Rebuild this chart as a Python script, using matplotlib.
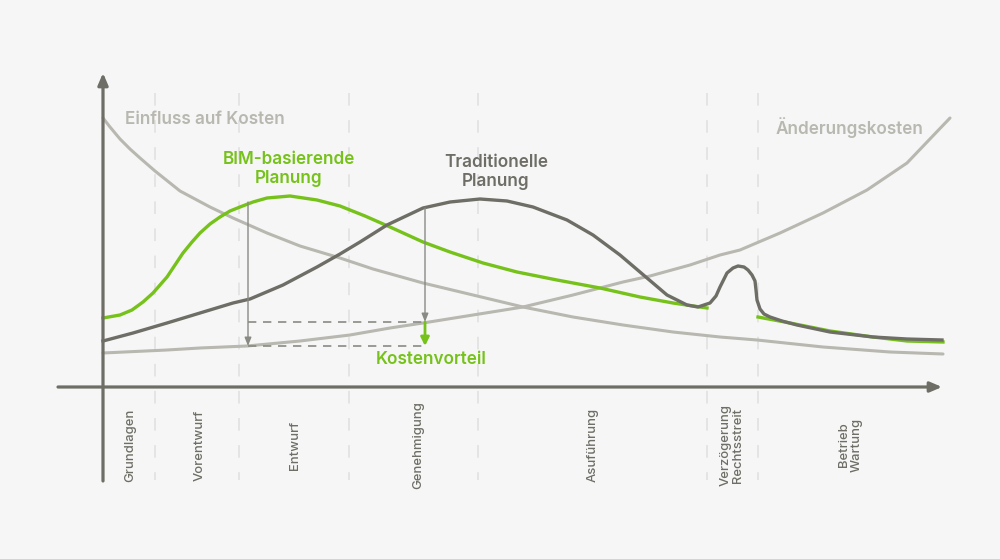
import matplotlib.pyplot as plt

# Farben
bg = "#f6f6f6"
dunkel = "#6e6e66"
hell = "#b8b8b0"
gruen = "#76c21a"
strich = "#e3e3e3"

# Phasen (Trennlinien und Beschriftungen)
phasen_grenzen = [155, 239, 349, 478, 707, 758]
phasen = ["Grundlagen", "Vorentwurf", "Entwurf", "Genehmigung", "Asuführung",
          "Verzögerung\nRechtsstreit", "Betrieb\nWartung"]
phasen_x = [130, 200, 295, 418, 593, 732, 850]

# Einfluss auf Kosten
einfluss_x = [103, 110, 120, 130, 140, 155, 180, 210, 233, 267, 300, 340, 373, 423, 473,
              523, 573, 623, 673, 720, 757, 823, 890, 943]
einfluss_y = [118, 127, 139, 149, 158, 171, 191, 207, 218, 233, 246, 258, 269, 283, 295,
              307, 317, 325, 332, 337, 340, 347, 352, 354]

# Änderungskosten
aenderung_x = [103, 167, 200, 247, 300, 350, 390, 423, 473, 523, 573, 623, 650, 690, 720,
               740, 780, 823, 867, 907, 950]
aenderung_y = [353, 350, 348, 346, 341, 335, 328, 323, 315, 307, 295, 282, 276, 265, 255,
               250, 233, 213, 190, 163, 118]

# Traditionelle Planung
trad_x = [103, 133, 167, 200, 233, 250, 283, 317, 340, 360, 387, 423, 450, 480, 507, 533,
          567, 593, 620, 647, 667, 687, 698, 710, 716, 720, 727, 733, 738, 744, 748, 752,
          755, 756, 757, 760, 764, 770, 782, 797, 830, 873, 907, 942]
trad_y = [341, 333, 323, 313, 303, 299, 285, 267, 254, 242, 225, 208, 202, 199, 201, 207,
          220, 235, 255, 278, 295, 305, 307, 303, 296, 287, 273, 268, 266, 267, 270, 275,
          281, 290, 300, 309, 314, 317, 321, 325, 332, 337, 339, 340]

# BIM-basierende Planung (zwei Abschnitte)
bim1_x = [103, 120, 132, 143, 153, 160, 167, 175, 183, 192, 200, 210, 220, 230, 240, 253,
          267, 290, 317, 340, 365, 390, 423, 450, 483, 517, 557, 600, 640, 673, 707]
bim1_y = [318, 315, 310, 302, 293, 285, 277, 265, 253, 242, 233, 224, 217, 211, 207, 202,
          198, 196, 200, 206, 216, 227, 242, 252, 263, 272, 280, 288, 297, 303, 308]
bim2_x = [758, 790, 830, 873, 907, 943]
bim2_y = [317, 323, 331, 337, 341, 342]

fig = plt.figure(figsize=(10, 5.59), dpi=100, facecolor=bg)
ax = fig.add_axes([0, 0, 1, 1])
ax.set_facecolor(bg)
ax.set_xlim(0, 1000)
ax.set_ylim(559, 0)
ax.axis("off")

plt.rcParams["font.family"] = ["Inter", "DejaVu Sans"]

# gestrichelte Phasenlinien
for gx in phasen_grenzen:
    ax.plot([gx, gx], [93, 480], color=strich, lw=1.3, ls=(0, (7, 8)), zorder=1)

# Achsen
ax.annotate("", xy=(942, 387), xytext=(58, 387),
            arrowprops=dict(arrowstyle="-|>,head_length=0.7,head_width=0.3",
                            color=dunkel, lw=2.3, shrinkA=0, shrinkB=0), zorder=5)
ax.annotate("", xy=(103, 73), xytext=(103, 481),
            arrowprops=dict(arrowstyle="-|>,head_length=0.7,head_width=0.3",
                            color=dunkel, lw=2.3, shrinkA=0, shrinkB=0), zorder=5)

# Kurven
ax.plot(einfluss_x, einfluss_y, color=hell, lw=2.2, solid_capstyle="round",
        solid_joinstyle="round", zorder=2)
ax.plot(aenderung_x, aenderung_y, color=hell, lw=2.2, solid_capstyle="round",
        solid_joinstyle="round", zorder=2)
ax.plot(bim1_x, bim1_y, color=gruen, lw=2.4, solid_joinstyle="round", zorder=3)
ax.plot(bim2_x, bim2_y, color=gruen, lw=2.4, solid_joinstyle="round", zorder=3)
ax.plot(trad_x, trad_y, color=dunkel, lw=2.4, solid_joinstyle="round", zorder=4)

# Kostenvorteil-Markierung
grau = "#8a8a84"
pfeil = dict(arrowstyle="-|>,head_length=0.5,head_width=0.2", color=grau, lw=1.0,
             shrinkA=0, shrinkB=0)
ax.annotate("", xy=(248, 346), xytext=(248, 202), arrowprops=pfeil, zorder=4)
ax.annotate("", xy=(425, 322), xytext=(425, 208), arrowprops=pfeil, zorder=4)
ax.plot([248, 425], [322, 322], color=grau, lw=1.2, ls=(0, (5, 4)), zorder=3)
ax.plot([248, 425], [346, 346], color=grau, lw=1.2, ls=(0, (5, 4)), zorder=3)
ax.annotate("", xy=(425, 346), xytext=(425, 322),
            arrowprops=dict(arrowstyle="-|>,head_length=0.5,head_width=0.25", color=gruen,
                            lw=2.0, shrinkA=0, shrinkB=0), zorder=5)

# Beschriftungen
ax.text(125, 120, "Einfluss auf Kosten", color=hell, fontsize=12.3, fontweight="semibold",
        ha="left", va="center")
ax.text(289, 169, "BIM-basierende\nPlanung", color=gruen, fontsize=12.3,
        fontweight="semibold", ha="center", va="center", linespacing=1.2)
ax.text(496, 172, "Traditionelle\nPlanung", color=dunkel, fontsize=12.3,
        fontweight="semibold", ha="center", va="center", linespacing=1.2)
ax.text(776, 128, "Änderungskosten", color=hell, fontsize=12.3, fontweight="semibold",
        ha="left", va="center")
ax.text(431, 360, "Kostenvorteil", color=gruen, fontsize=12.3, fontweight="semibold",
        ha="center", va="center")

for name, px in zip(phasen, phasen_x):
    ax.text(px, 445, name, color=dunkel, fontsize=9.4, fontweight="medium", rotation=90,
            ha="center", va="center", multialignment="center", linespacing=1.1)

fig.savefig("out.png", dpi=100, facecolor=bg)
